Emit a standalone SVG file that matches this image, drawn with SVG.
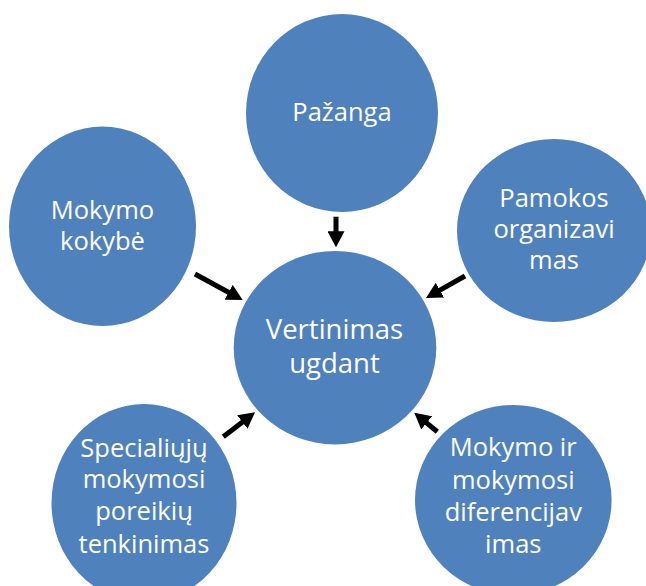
<svg xmlns="http://www.w3.org/2000/svg" width="646" height="586" viewBox="0 0 646 586">
<style>
.node{fill:#4F81BD;}
.lbl{font-family:"Open Sans","Liberation Sans",sans-serif;font-size:25.5px;fill:#FFFFFF;text-anchor:middle;}
.big{font-size:27.5px;}
.arr{stroke:#000000;stroke-width:5;fill:none;marker-end:url(#head);}
</style>
<defs>
<marker id="head" markerUnits="userSpaceOnUse" markerWidth="16" markerHeight="17" refX="6" refY="8.5" orient="auto">
<path d="M0,0 L16,8.5 L0,17 z" fill="#000000"/>
</marker>
</defs>
<rect width="646" height="586" fill="#FFFFFF"/>
<g id="node-pazanga">
<ellipse class="node" cx="342" cy="113" rx="96" ry="99"/>
<text class="lbl" x="342" y="120.7">Pažanga</text>
</g>
<g id="node-mokymo-kokybe">
<ellipse class="node" cx="102.5" cy="226.3" rx="93.5" ry="99.7"/>
<text class="lbl" x="102.5" y="219.3">Mokymo</text>
<text class="lbl" x="102.5" y="250">kokybė</text>
</g>
<g id="node-pamokos">
<ellipse class="node" cx="554" cy="230.5" rx="97" ry="91.5"/>
<text class="lbl" x="554" y="207.3">Pamokos</text>
<text class="lbl" x="554" y="238.3">organizavi</text>
<text class="lbl" x="554" y="269.3">mas</text>
</g>
<g id="node-vertinimas">
<ellipse class="node" cx="335" cy="347.7" rx="101.3" ry="96.7"/>
<text class="lbl big" x="334.5" y="339.3">Vertinimas</text>
<text class="lbl big" x="334.5" y="373.3">ugdant</text>
</g>
<g id="node-specialiuju">
<ellipse class="node" cx="144" cy="503" rx="92.5" ry="99"/>
<text class="lbl" x="144" y="456.7">Specialiųjų</text>
<text class="lbl" x="144" y="488.3">mokymosi</text>
<text class="lbl" x="144" y="520">poreikių</text>
<text class="lbl" x="144" y="553.3">tenkinimas</text>
</g>
<g id="node-diferencijavimas">
<ellipse class="node" cx="513.3" cy="500" rx="98.3" ry="95"/>
<text class="lbl" x="513.3" y="455.7">Mokymo ir</text>
<text class="lbl" x="513.3" y="489">mokymosi</text>
<text class="lbl" x="513.3" y="520.7">diferencijav</text>
<text class="lbl" x="513.3" y="553.3">imas</text>
</g>
<g id="connectors">
<line class="arr" x1="336" y1="216.7" x2="336" y2="237.3"/>
<line class="arr" x1="195" y1="274" x2="233.9" y2="295.2"/>
<line class="arr" x1="465" y1="276" x2="434.7" y2="293.1"/>
<line class="arr" x1="223.3" y1="436.7" x2="247.1" y2="418.4"/>
<line class="arr" x1="437.3" y1="431.7" x2="422" y2="419.1"/>
</g>
</svg>
